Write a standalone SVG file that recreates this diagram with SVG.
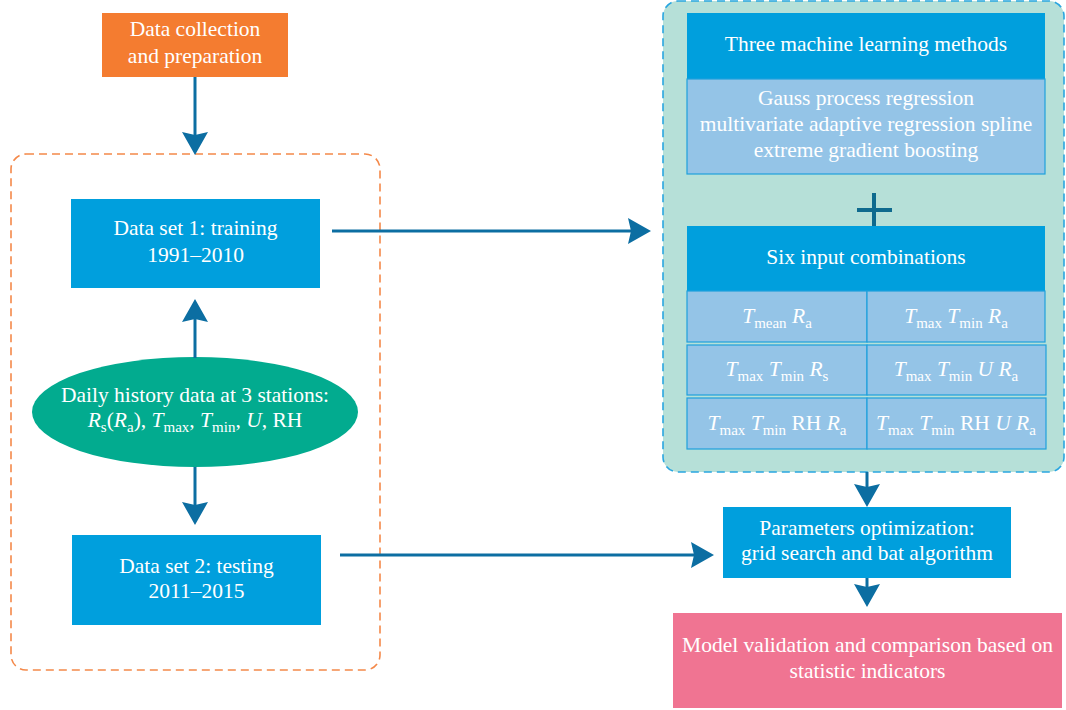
<svg xmlns="http://www.w3.org/2000/svg" width="1066" height="710" viewBox="0 0 1066 710">
<style>
  text { font-family: "Liberation Serif", "Times New Roman", serif; font-size: 21.5px; fill: #ffffff; text-anchor: middle; }
  .it { font-style: italic; }
  .sub { font-size: 15px; }
  .blue { fill: #009fdd; }
  .cell { fill: #94c4e7; stroke: #1fa0dc; stroke-width: 1.2; }
  .conn { stroke: #0c6ea2; stroke-width: 3; fill: none; marker-end: url(#arrow); }
</style>
<defs>
  <marker id="arrow" viewBox="-5 -15 27 30" markerWidth="27" markerHeight="30" refX="0" refY="0" markerUnits="userSpaceOnUse" orient="auto">
    <path d="M20,0 L-3,-13 L0,0 L-3,13 Z" fill="#0c6ea2"/>
  </marker>
</defs>
<rect width="1066" height="710" fill="#ffffff"/>

<g id="train-test-group">
  <rect x="11" y="154" width="369" height="516" rx="15" fill="none" stroke="#f4894a" stroke-width="1.6" stroke-dasharray="8 5"/>
</g>

<g id="ml-panel">
  <rect x="663" y="1" width="401" height="471" rx="15" fill="#b6e0d8" stroke="#2aa6e0" stroke-width="1.6" stroke-dasharray="8 5"/>
</g>

<g id="data-collection">
  <rect x="102" y="13" width="186" height="64" fill="#f47c30"/>
  <text x="195" y="36">Data collection</text>
  <text x="195" y="63">and preparation</text>
</g>

<g id="dataset1">
  <rect class="blue" x="71" y="199" width="249" height="89"/>
  <text x="195.5" y="235">Data set 1: training</text>
  <text x="195.5" y="262">1991–2010</text>
</g>

<g id="daily-data">
  <ellipse cx="195" cy="412" rx="163" ry="55" fill="#02ab8f"/>
  <text x="195" y="402">Daily history data at 3 stations:</text>
  <text x="195" y="427"><tspan class="it">R</tspan><tspan class="sub" dy="5">s</tspan><tspan dy="-5">(</tspan><tspan class="it">R</tspan><tspan class="sub" dy="5">a</tspan><tspan dy="-5">), </tspan><tspan class="it">T</tspan><tspan class="sub" dy="5">max</tspan><tspan dy="-5">, </tspan><tspan class="it">T</tspan><tspan class="sub" dy="5">min</tspan><tspan dy="-5">, </tspan><tspan class="it">U</tspan><tspan>, RH</tspan></text>
</g>

<g id="dataset2">
  <rect class="blue" x="72" y="535" width="249" height="90"/>
  <text x="196.5" y="573">Data set 2: testing</text>
  <text x="196.5" y="598">2011–2015</text>
</g>

<g id="ml-methods">
  <rect class="blue" x="687" y="13" width="358" height="66"/>
  <text x="866" y="51">Three machine learning methods</text>
  <rect x="687" y="79" width="358" height="95" fill="#94c4e7" stroke="#1fa0dc" stroke-width="1.2"/>
  <text x="866" y="105">Gauss process regression</text>
  <text x="866" y="131">multivariate adaptive regression spline</text>
  <text x="866" y="157">extreme gradient boosting</text>
</g>

<g id="plus">
  <line x1="874" y1="193" x2="874" y2="226" stroke="#0e6a8e" stroke-width="4"/>
  <line x1="857" y1="210" x2="892" y2="210" stroke="#0e6a8e" stroke-width="4"/>
</g>

<g id="input-combinations">
  <rect class="blue" x="687" y="226" width="358" height="65"/>
  <text x="866" y="264">Six input combinations</text>
  <rect class="cell" x="687" y="291" width="180" height="51"/>
  <rect class="cell" x="867" y="291" width="178" height="51"/>
  <rect class="cell" x="687" y="345" width="180" height="50"/>
  <rect class="cell" x="867" y="345" width="179" height="50"/>
  <rect class="cell" x="687" y="398" width="180" height="51"/>
  <rect class="cell" x="867" y="398" width="179" height="51"/>
  <text x="777" y="323"><tspan class="it">T</tspan><tspan class="sub" dy="5">mean</tspan><tspan dy="-5"> </tspan><tspan class="it">R</tspan><tspan class="sub" dy="5">a</tspan></text>
  <text x="956" y="323"><tspan class="it">T</tspan><tspan class="sub" dy="5">max</tspan><tspan dy="-5"> </tspan><tspan class="it">T</tspan><tspan class="sub" dy="5">min</tspan><tspan dy="-5"> </tspan><tspan class="it">R</tspan><tspan class="sub" dy="5">a</tspan></text>
  <text x="777" y="376"><tspan class="it">T</tspan><tspan class="sub" dy="5">max</tspan><tspan dy="-5"> </tspan><tspan class="it">T</tspan><tspan class="sub" dy="5">min</tspan><tspan dy="-5"> </tspan><tspan class="it">R</tspan><tspan class="sub" dy="5">s</tspan></text>
  <text x="956" y="376"><tspan class="it">T</tspan><tspan class="sub" dy="5">max</tspan><tspan dy="-5"> </tspan><tspan class="it">T</tspan><tspan class="sub" dy="5">min</tspan><tspan dy="-5"> </tspan><tspan class="it">U</tspan><tspan> </tspan><tspan class="it">R</tspan><tspan class="sub" dy="5">a</tspan></text>
  <text x="777" y="430"><tspan class="it">T</tspan><tspan class="sub" dy="5">max</tspan><tspan dy="-5"> </tspan><tspan class="it">T</tspan><tspan class="sub" dy="5">min</tspan><tspan dy="-5"> RH </tspan><tspan class="it">R</tspan><tspan class="sub" dy="5">a</tspan></text>
  <text x="956" y="430"><tspan class="it">T</tspan><tspan class="sub" dy="5">max</tspan><tspan dy="-5"> </tspan><tspan class="it">T</tspan><tspan class="sub" dy="5">min</tspan><tspan dy="-5"> RH </tspan><tspan class="it">U</tspan><tspan> </tspan><tspan class="it">R</tspan><tspan class="sub" dy="5">a</tspan></text>
</g>

<g id="parameters-optimization">
  <rect class="blue" x="723" y="507" width="288" height="71"/>
  <text x="867" y="535">Parameters optimization:</text>
  <text x="867" y="560">grid search and bat algorithm</text>
</g>

<g id="model-validation">
  <rect x="673" y="613" width="389" height="95" fill="#f07492"/>
  <text x="867.5" y="652">Model validation and comparison based on</text>
  <text x="867.5" y="678">statistic indicators</text>
</g>

<g id="connectors">
  <line class="conn" x1="195" y1="77" x2="195" y2="135"/>
  <line class="conn" x1="195" y1="358" x2="195" y2="319"/>
  <line class="conn" x1="195" y1="467" x2="195" y2="505"/>
  <line class="conn" x1="332" y1="231" x2="631" y2="231"/>
  <line class="conn" x1="340" y1="555" x2="694" y2="555"/>
  <line class="conn" x1="867" y1="472" x2="867" y2="487"/>
  <line class="conn" x1="867" y1="578" x2="867" y2="587"/>
</g>
</svg>
